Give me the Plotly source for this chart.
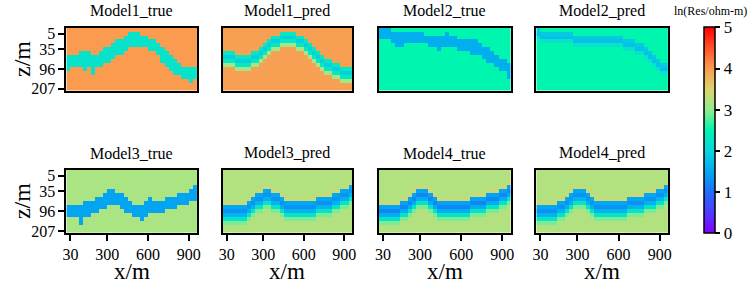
import plotly.graph_objects as go

# ---------------- data ----------------
N_COLS = 32          # lateral cells (30 m each)
N_ROWS = 16          # depth cells
CELL_M = 30
X_TICK_VALS = [30, 300, 600, 900]
X_TICK_TEXT = ["30", "300", "600", "900"]
DEPTH_TICK_ROWS = [1, 5, 10, 15]
DEPTH_TICK_TEXT = ["5", "35", "96", "207"]
CBAR_TICKS = [0, 1, 2, 3, 4, 5]

TITLES = ["Model1_true", "Model1_pred", "Model2_true", "Model2_pred",
          "Model3_true", "Model3_pred", "Model4_true", "Model4_pred"]

# background resistivity (ln ohm-m) per panel
BACKGROUND = [4.0, 3.95, 2.5, 2.5, 3.15, 3.2, 3.2, 3.2]

# true models: layer top/bottom row (inclusive) per column, single value
M1_TRUE_TOP = [7, 7, 7, 6, 6, 6, 7, 7, 6, 5, 5, 4, 3, 3, 2, 1, 1, 1, 2, 2, 3, 3, 4, 5, 6, 7, 8, 9, 10, 10, 10, 10]
M1_TRUE_BOT = [10, 9, 9, 9, 10, 9, 11, 9, 9, 8, 8, 7, 6, 6, 5, 4, 4, 4, 4, 4, 5, 5, 6, 8, 9, 10, 11, 11, 12, 12, 13, 12]
M1_TRUE_VAL = 2.2

M2_TRUE_TOP = [0, 0, 0, 1, 1, 1, 1, 1, 1, 1, 1, 2, 2, 2, 2, 2, 1, 2, 2, 3, 3, 3, 3, 3, 4, 5, 5, 6, 7, 8, 8, 9]
M2_TRUE_BOT = [2, 2, 2, 3, 4, 4, 3, 3, 3, 3, 3, 3, 4, 4, 5, 4, 4, 4, 4, 5, 5, 5, 6, 6, 6, 7, 8, 8, 9, 10, 10, 12]
M2_TRUE_VAL = 1.55

M3_TRUE_TOP = [9, 9, 9, 9, 8, 8, 8, 7, 7, 6, 5, 5, 6, 6, 7, 8, 9, 9, 9, 8, 7, 8, 8, 8, 7, 7, 7, 6, 6, 6, 5, 4]
M3_TRUE_BOT = [11, 11, 11, 13, 11, 11, 10, 10, 9, 9, 8, 8, 8, 9, 10, 10, 11, 11, 12, 11, 10, 10, 10, 10, 9, 9, 9, 8, 8, 8, 7, 7]
M3_TRUE_VAL = 1.45

# smooth models: layer top row per column and vertical value profile from (top + offset)
M1_PRED_TOP = [6, 6, 6, 7, 7, 7, 7, 6, 6, 5, 4, 3, 2, 2, 1, 1, 1, 1, 2, 2, 3, 4, 5, 6, 7, 8, 8, 9, 9, 10, 10, 10]
M1_PRED_PROFILE = [2.3, 1.9, 2.3, 3.1]
M1_PRED_OFFSET = 0

M2_PRED_TOP = [0, 1, 1, 1, 1, 1, 1, 1, 1, 2, 2, 2, 2, 2, 2, 2, 2, 2, 2, 2, 2, 3, 3, 3, 4, 4, 5, 6, 7, 8, 9, 9]
M2_PRED_PROFILE = [1.85, 1.75, 2.2]
M2_PRED_OFFSET = 0

M3_PRED_TOP = [9, 9, 9, 9, 9, 9, 8, 7, 6, 6, 5, 5, 6, 6, 7, 8, 8, 8, 8, 8, 8, 8, 8, 7, 7, 7, 7, 6, 6, 5, 5, 4]
M3_PRED_PROFILE = [3.35, 1.5, 1.3, 1.6, 2.2, 2.9]
M3_PRED_OFFSET = -1

M4_TRUE_TOP = [9, 9, 9, 9, 9, 8, 8, 7, 6, 5, 5, 5, 6, 7, 8, 8, 8, 8, 8, 8, 8, 8, 7, 7, 7, 7, 6, 6, 6, 5, 5, 4]
M4_TRUE_PROFILE = [3.35, 1.45, 1.2, 1.55, 2.2, 2.9]
M4_TRUE_OFFSET = -1

M4_PRED_TOP = [9, 9, 9, 9, 9, 8, 8, 7, 6, 5, 5, 5, 6, 7, 8, 8, 8, 8, 8, 8, 8, 8, 7, 7, 7, 7, 6, 6, 6, 5, 5, 4]
M4_PRED_PROFILE = [3.35, 1.5, 1.3, 1.6, 2.2, 2.9]
M4_PRED_OFFSET = -1

# colour stops (value, rgb)
CBAR_STOPS = [(0.0, "rgb(128,0,255)"), (0.5, "rgb(80,60,255)"), (1.0, "rgb(30,110,250)"),
              (1.5, "rgb(0,170,240)"), (2.0, "rgb(10,215,220)"), (2.5, "rgb(0,245,175)"),
              (3.0, "rgb(150,235,140)"), (3.5, "rgb(220,210,110)"), (4.0, "rgb(250,155,80)"),
              (4.5, "rgb(255,80,40)"), (5.0, "rgb(255,0,0)")]


# ---------------- grid builders ----------------
def grid_true(top, bot, val, bg):
    z = [[bg] * N_COLS for _ in range(N_ROWS)]
    for c in range(N_COLS):
        for r in range(top[c], bot[c] + 1):
            if 0 <= r < N_ROWS:
                z[r][c] = val
    return z


def grid_smooth(top, profile, offset, bg):
    z = [[bg] * N_COLS for _ in range(N_ROWS)]
    for c in range(N_COLS):
        for k, v in enumerate(profile):
            r = top[c] + offset + k
            if 0 <= r < N_ROWS:
                z[r][c] = v
    return z


GRIDS = [
    grid_true(M1_TRUE_TOP, M1_TRUE_BOT, M1_TRUE_VAL, BACKGROUND[0]),
    grid_smooth(M1_PRED_TOP, M1_PRED_PROFILE, M1_PRED_OFFSET, BACKGROUND[1]),
    grid_true(M2_TRUE_TOP, M2_TRUE_BOT, M2_TRUE_VAL, BACKGROUND[2]),
    grid_smooth(M2_PRED_TOP, M2_PRED_PROFILE, M2_PRED_OFFSET, BACKGROUND[3]),
    grid_true(M3_TRUE_TOP, M3_TRUE_BOT, M3_TRUE_VAL, BACKGROUND[4]),
    grid_smooth(M3_PRED_TOP, M3_PRED_PROFILE, M3_PRED_OFFSET, BACKGROUND[5]),
    grid_smooth(M4_TRUE_TOP, M4_TRUE_PROFILE, M4_TRUE_OFFSET, BACKGROUND[6]),
    grid_smooth(M4_PRED_TOP, M4_PRED_PROFILE, M4_PRED_OFFSET, BACKGROUND[7]),
]

x_centers = [CELL_M * (i + 0.5) for i in range(N_COLS)]
y_centers = [j + 0.5 for j in range(N_ROWS)]
colorscale = [[v / 5.0, c] for v, c in CBAR_STOPS]

# ---------------- layout geometry (pixels) ----------------
W, H = 754, 287
COL_X = [(63, 195), (221, 352), (379, 512), (538, 671)]
ROW_Y = [(26.5, 91.5), (173, 238.5)]
FONT = "Liberation Serif"

fig = go.Figure()
annotations = []
for k in range(8):
    row, col = divmod(k, 4)
    xa = "x" if k == 0 else f"x{k+1}"
    ya = "y" if k == 0 else f"y{k+1}"
    fig.add_trace(go.Heatmap(
        z=GRIDS[k], x=x_centers, y=y_centers, xaxis=xa, yaxis=ya,
        colorscale=colorscale, zmin=0, zmax=5, showscale=(k == 0),
        colorbar=dict(x=708 / W, xanchor="left", xpad=0, thickness=11,
                      len=213 / H, lenmode="fraction", y=1 - 132.5 / H, yanchor="middle", ypad=0,
                      outlinewidth=1.5, outlinecolor="black",
                      tickvals=CBAR_TICKS, ticks="outside", ticklen=5, tickwidth=1.5,
                      tickcolor="black", tickfont=dict(family=FONT, size=17, color="black")),
        hoverinfo="skip"))
    x0, x1 = COL_X[col]
    y0, y1 = ROW_Y[row]
    xkey = "xaxis" if k == 0 else f"xaxis{k+1}"
    ykey = "yaxis" if k == 0 else f"yaxis{k+1}"
    fig.update_layout(**{
        xkey: dict(domain=[x0 / W, x1 / W], anchor=ya, range=[0, N_COLS * CELL_M],
                   showline=True, mirror=True, linecolor="black", linewidth=2,
                   showgrid=False, zeroline=False,
                   tickvals=X_TICK_VALS, ticktext=X_TICK_TEXT,
                   ticks="outside" if row == 1 else "", ticklen=6, tickwidth=1.5, tickcolor="black",
                   showticklabels=(row == 1),
                   tickfont=dict(family=FONT, size=16, color="black")),
        ykey: dict(domain=[1 - y1 / H, 1 - y0 / H], anchor=xa, range=[N_ROWS, 0],
                   showline=True, mirror=True, linecolor="black", linewidth=2,
                   showgrid=False, zeroline=False,
                   tickvals=[r + 0.5 for r in DEPTH_TICK_ROWS], ticktext=DEPTH_TICK_TEXT,
                   ticks="outside" if col == 0 else "", ticklen=6, tickwidth=1.5, tickcolor="black",
                   showticklabels=(col == 0),
                   tickfont=dict(family=FONT, size=16, color="black")),
    })
    # panel title
    annotations.append(dict(text=TITLES[k], x=(x0 + x1) / 2 / W, y=1 - (9 if row == 0 else 156) / H,
                            xref="paper", yref="paper", showarrow=False, xanchor="center", yanchor="middle",
                            font=dict(family=FONT, size=16, color="black")))
    if row == 1:
        annotations.append(dict(text="x/m", x=(x0 + x1) / 2 / W, y=1 - 278 / H,
                                xref="paper", yref="paper", showarrow=False, xanchor="center",
                                yanchor="middle", font=dict(family=FONT, size=23, color="black")))
    if col == 0:
        annotations.append(dict(text="z/m", x=18 / W, y=1 - (y0 + y1) / 2 / H, textangle=-90,
                                xref="paper", yref="paper", showarrow=False, xanchor="center",
                                yanchor="middle", font=dict(family=FONT, size=24, color="black")))

annotations.append(dict(text="ln(Res/ohm-m)", x=714 / W, y=1 - 9 / H, xref="paper", yref="paper",
                        showarrow=False, xanchor="center", yanchor="middle",
                        font=dict(family=FONT, size=12, color="black")))

fig.update_layout(width=W, height=H, margin=dict(l=0, r=0, t=0, b=0),
                  paper_bgcolor="white", plot_bgcolor="white",
                  annotations=annotations, showlegend=False)

fig.write_html("out.html", config={"displayModeBar": False},
               post_script="document.body.style.margin='0px';document.body.style.overflow='hidden';")
